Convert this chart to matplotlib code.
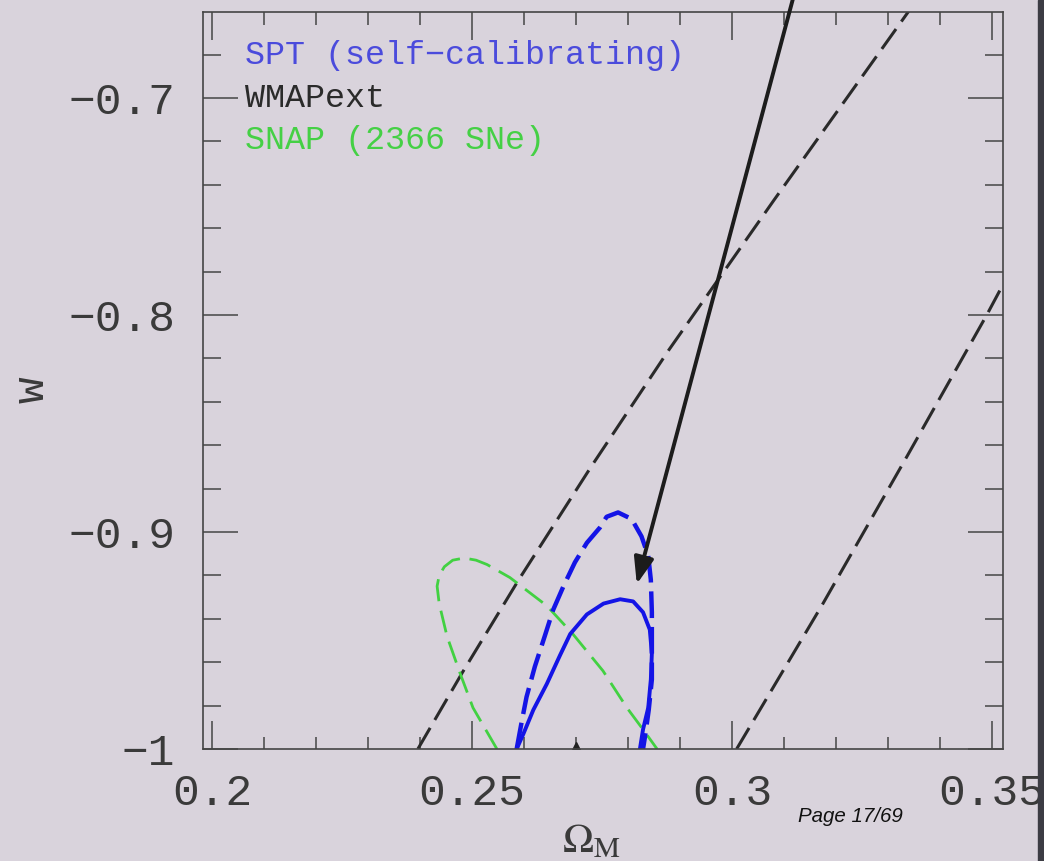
import matplotlib
matplotlib.use("Agg")
import matplotlib.pyplot as plt
from matplotlib.patches import Rectangle
from matplotlib.ticker import FixedLocator, MultipleLocator

# WMAPext 2-sigma band, left and right edges (Omega_M, w)
wmap_left_om = [0.2396, 0.2481, 0.2590, 0.2729, 0.2879, 0.3081, 0.3340,
                0.3352]
wmap_left_w = [-1.000, -0.965, -0.922, -0.870, -0.816, -0.747, -0.660,
               -0.657]
wmap_right_om = [0.3009, 0.3175, 0.3337, 0.3490, 0.3519, 0.3545]
wmap_right_w = [-1.000, -0.933, -0.865, -0.800, -0.787, -0.776]

# SPT self-calibrating contours, outer (dashed) and inner (solid)
spt_outer_om = [0.2586, 0.2596, 0.2605, 0.2621, 0.2640, 0.2656, 0.2676,
                0.2698, 0.2721, 0.2746, 0.2759, 0.2781, 0.2807, 0.2826,
                0.2839, 0.2844, 0.2846, 0.2846, 0.2846, 0.2840, 0.2833,
                0.2829]
spt_outer_w = [-1.000, -0.987, -0.976, -0.962, -0.948, -0.936, -0.925,
               -0.914, -0.905, -0.898, -0.893, -0.891, -0.894, -0.902,
               -0.911, -0.922, -0.937, -0.953, -0.968, -0.982, -0.994,
               -1.000]
spt_inner_om = [0.2586, 0.2599, 0.2618, 0.2644, 0.2669, 0.2689, 0.2721,
                0.2753, 0.2785, 0.2810, 0.2829, 0.2842, 0.2846, 0.2844,
                0.2839, 0.2829, 0.2823]
spt_inner_w = [-1.000, -0.993, -0.982, -0.970, -0.957, -0.947, -0.938,
               -0.933, -0.931, -0.932, -0.937, -0.945, -0.956, -0.968,
               -0.981, -0.991, -1.000]

# SNAP (2366 SNe) contour
snap_om = [0.2548, 0.2502, 0.2477, 0.2452, 0.2437, 0.2433, 0.2437, 0.2447,
           0.2463, 0.2485, 0.2508, 0.2529, 0.2573, 0.2644, 0.2694, 0.2752,
           0.2798, 0.2829, 0.2856]
snap_w = [-1.000, -0.981, -0.965, -0.948, -0.933, -0.925, -0.920, -0.916,
          -0.913, -0.912, -0.913, -0.915, -0.921, -0.934, -0.947, -0.964,
          -0.981, -0.991, -1.000]

# fiducial model
fid_om, fid_w = 0.27, -1.0

# arrow pointing at the SPT contour
arrow_tail = (0.3127, -0.6456)
arrow_tip = (0.2817, -0.9240)

x_major = [0.2, 0.25, 0.3, 0.35]
x_labels = ["0.2", "0.25", "0.3", "0.35"]
y_major = [-1.0, -0.9, -0.8, -0.7]
y_labels = ["\u22121", "\u22120.9", "\u22120.8", "\u22120.7"]

legend_labels = ["SPT (self\u2212calibrating)", "WMAPext", "SNAP (2366 SNe)"]

BG = "#d9d3dc"
INK = "#2a2a2a"
LABEL = "#3a3a3a"
BLUE = "#1414e6"
GREEN = "#42d142"
MONO = ["Liberation Mono", "DejaVu Sans Mono"]

plt.rcParams["mathtext.fontset"] = "stix"

fig = plt.figure(figsize=(10.44, 8.61), dpi=100, facecolor=BG)
ax = fig.add_axes([0.1944, 0.1301, 0.7663, 0.8560], facecolor=BG)

ax.plot(wmap_left_om, wmap_left_w, color=INK, lw=2.2, ls=(0, (8, 3)))
ax.plot(wmap_right_om, wmap_right_w, color=INK, lw=2.2, ls=(0, (8, 3)))
ax.plot(snap_om, snap_w, color=GREEN, lw=2.0, ls=(0, (8, 3.5)))
ax.plot(spt_outer_om, spt_outer_w, color=BLUE, lw=3.2, ls=(0, (6, 2)))
ax.plot(spt_inner_om, spt_inner_w, color=BLUE, lw=2.8)
ax.plot([fid_om], [fid_w], marker="^", ms=10, color="#222222", ls="none")

ax.annotate("", xy=arrow_tip, xytext=arrow_tail, xycoords="data",
            textcoords="data", annotation_clip=False,
            arrowprops=dict(arrowstyle="-|>,head_length=0.8,head_width=0.3",
                            color="#1c1c1c", lw=2.8, mutation_scale=20,
                            shrinkA=0, shrinkB=0))

legend_colors = ["#4b4bdc", INK, "#45d045"]
for i, (lab, col) in enumerate(zip(legend_labels, legend_colors)):
    ax.text(0.0525, 0.9405 - 0.0575 * i, lab, transform=ax.transAxes,
            color=col, family=MONO, fontsize=24, va="center", ha="left")

ax.set_xlim(0.19827, 0.35212)
ax.set_ylim(-1.0, -0.66037)

ax.xaxis.set_major_locator(FixedLocator(x_major))
ax.xaxis.set_minor_locator(MultipleLocator(0.01))
ax.yaxis.set_major_locator(FixedLocator(y_major))
ax.yaxis.set_minor_locator(MultipleLocator(0.02))
ax.set_xticklabels(x_labels, family=MONO, fontsize=32, color=LABEL)
ax.set_yticklabels(y_labels, family=MONO, fontsize=32, color=LABEL)

ax.tick_params(which="both", direction="in", top=True, right=True,
               color="#454545", width=1.1)
ax.tick_params(axis="x", which="major", length=20, pad=17)
ax.tick_params(axis="x", which="minor", length=9)
ax.tick_params(axis="y", which="major", length=25, pad=20)
ax.tick_params(axis="y", which="minor", length=13)
for sp in ax.spines.values():
    sp.set_color("#454545")
    sp.set_linewidth(1.2)

ax.set_xlabel(r"$\Omega_{\rm M}$", fontsize=30, color=LABEL)
ax.xaxis.set_label_coords(0.486, -0.095)
ax.set_ylabel("w", family=MONO, fontsize=32, color=LABEL)
ax.yaxis.set_label_coords(-0.1875, 0.487)

fig.text(798 / 1044, 1 - 817 / 861, "Page 17/69", family="Liberation Sans",
         fontstyle="italic", fontsize=14.8, color="#111111",
         ha="left", va="center")

# dark screen border on the right
fig.add_artist(Rectangle((1038 / 1044, 0), 6 / 1044, 1,
                         transform=fig.transFigure, color="#3c3c44",
                         zorder=10))

fig.savefig("out.png", dpi=100, facecolor=BG)
